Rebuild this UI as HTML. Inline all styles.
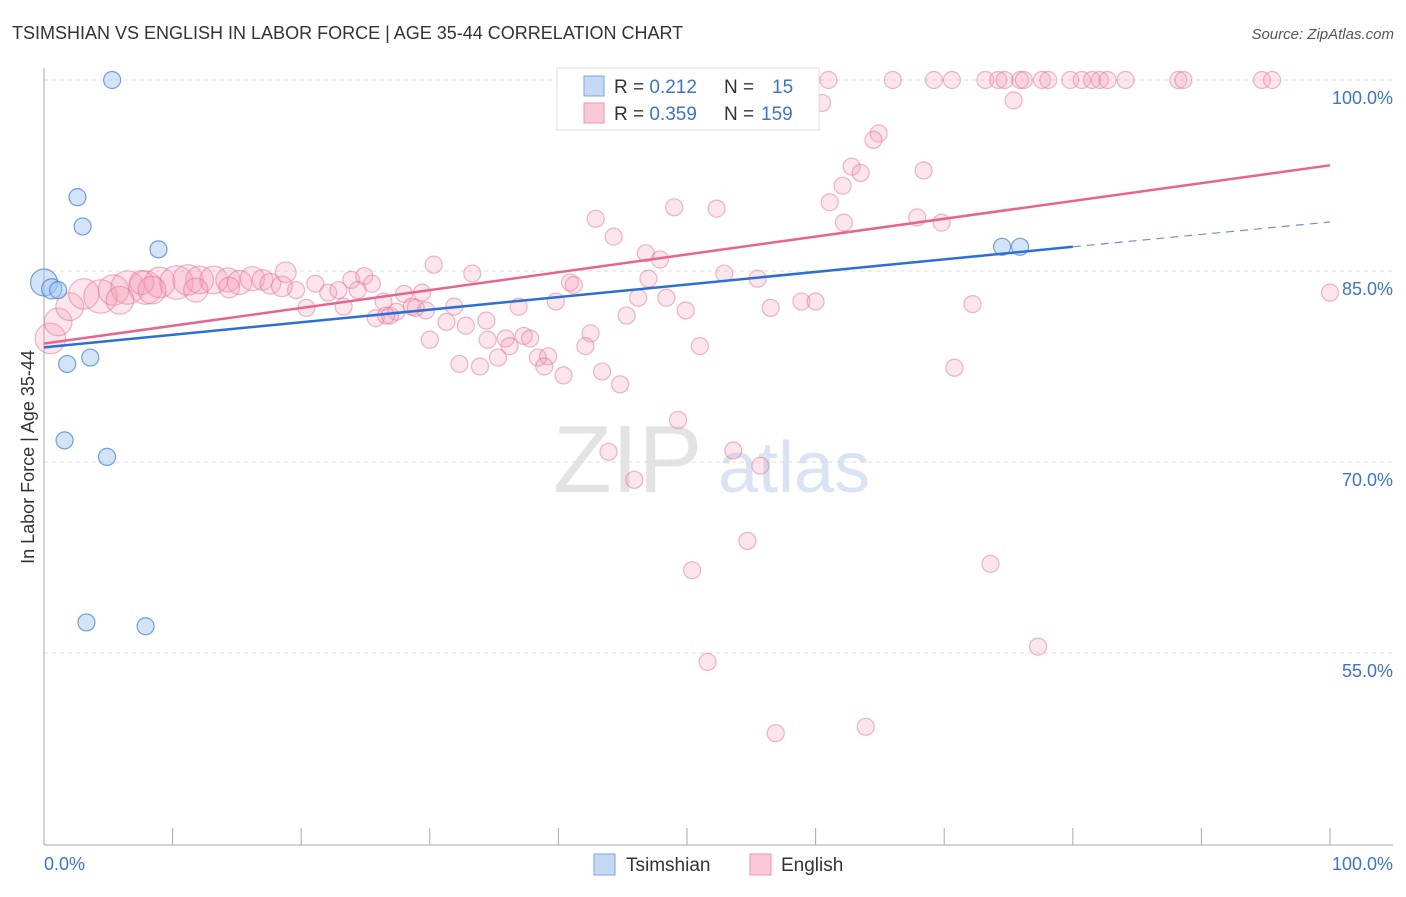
<!DOCTYPE html>
<html><head><meta charset="utf-8"><style>
body{margin:0;background:#fff;font-family:"Liberation Sans",sans-serif;}
svg text{font-family:"Liberation Sans",sans-serif;}
</style></head><body>
<svg id="c" width="1406" height="892" xmlns="http://www.w3.org/2000/svg">
<text x="12" y="39" font-size="18" fill="#333">TSIMSHIAN VS ENGLISH IN LABOR FORCE | AGE 35-44 CORRELATION CHART</text>
<text x="1394" y="39" font-size="15" fill="#555" text-anchor="end" font-style="italic">Source: ZipAtlas.com</text>
<text x="0" y="0" transform="translate(34,457) rotate(-90)" font-size="18" fill="#333" text-anchor="middle">In Labor Force | Age 35-44</text>
<g><text x="553" y="492" font-size="96" fill="#ddd" font-family="Liberation Serif" opacity="0.8">ZIP</text><text x="718" y="492" font-size="72" fill="#c8daf0" opacity="0.7">atlas</text></g>
<g id="grid"></g>
<g id="ticks"></g>
<line x1="44" y1="68" x2="44" y2="845" stroke="#aaa"/>
<line x1="44" y1="845" x2="1393" y2="845" stroke="#aaa"/>
<g id="pink"></g>
<g id="blue"></g>
<g id="trend"></g>
<text x="44" y="870" font-size="18" fill="#3b73d1">0.0%</text>
<text x="1393" y="870" font-size="18" fill="#3b73d1" text-anchor="end">100.0%</text>
<g>
<rect x="557" y="68" width="262" height="62" fill="#fff" stroke="#ddd"/>
<rect x="584" y="76" width="20" height="20" fill="#c5d9f5" stroke="#7aa6e0"/>
<rect x="584" y="103" width="20" height="20" fill="#fbc8d6" stroke="#ef93ae"/>
<text x="614" y="93" font-size="19" fill="#333">R = <tspan fill="#3b73d1">0.212</tspan><tspan x="724">N = </tspan><tspan x="772" fill="#3b73d1">15</tspan></text>
<text x="614" y="120" font-size="19" fill="#333">R = <tspan fill="#3b73d1">0.359</tspan><tspan x="724">N = </tspan><tspan x="761" fill="#3b73d1">159</tspan></text>
</g>
<g>
<rect x="594" y="854" width="21" height="21" fill="#c5d9f5" stroke="#7aa6e0"/>
<text x="626" y="871" font-size="19" fill="#333">Tsimshian</text>
<rect x="750" y="854" width="21" height="21" fill="#fbc8d6" stroke="#ef93ae"/>
<text x="781" y="871" font-size="19" fill="#333">English</text>
</g>
</svg>
<script>
const yTicks=[100,85,70,55];
const yTickLabels=["100.0%","85.0%","70.0%","55.0%"];
const blueX=[5.3,2.6,3.0,8.9,0,0.6,1.1,1.8,3.6,1.6,4.9,3.3,7.9,74.5,75.9];
const blueY=[100,90.8,88.5,86.7,84.1,83.6,83.5,77.7,78.2,71.7,70.4,57.4,57.1,86.9,86.9];
const blueW=[1,1,1,1,3,1.5,1,1,1,1,1,1,1,1,1];
const pinkX=[57.7,58,61,66,69.2,70.6,73.2,74.2,74.7,75.9,76.2,77.6,78.1,79.8,80.7,81.5,82.1,82.7,84.1,88.2,88.6,94.7,95.5,54.1,
60.5,75.4,59.3,64.9,64.5,62.8,63.5,62.1,68.4,61.1,62.2,49,52.3,42.9,44.3,67.9,69.8,46.8,47.9,30.3,33.3,47,52.9,55.5,40.9,41.2,46.2,48.4,39.8,36.9,31.9,29.7,49.9,45.3,56.5,58.9,60,72.2,100,42.5,42.1,51,34.4,32.8,31.3,34.5,35.9,36.2,37.3,37.8,35.3,38.4,39.2,38.9,32.3,33.9,40.4,43.4,44.8,70.8,30,49.3,43.9,53.6,55.7,45.9,54.7,50.4,73.6,77.3,51.6,56.9,63.9,
20.4,19.6,21.1,22.1,22.9,23.3,23.9,24.4,24.9,25.5,26.4,25.8,26.9,27.4,28,28.6,28.9,29.4,26.6,
0.5,1.1,2,3.1,4.4,5.4,6.5,7.9,9,10.3,11.2,12.1,13.2,14.3,15.2,16.2,17,17.6,18.8,7.6,5.9,8.4,11.8,14.4,18.5];
const pinkY=[100,100,100,100,100,100,100,100,100,100,100,100,100,100,100,100,100,100,100,100,100,100,100,100,
98.2,98.4,97.4,95.8,95.3,93.2,92.7,91.7,92.9,90.4,88.8,90,89.9,89.1,87.7,89.2,88.8,86.4,85.9,85.5,84.8,84.4,84.8,84.4,84.1,83.9,82.9,82.9,82.6,82.2,82.2,81.9,81.9,81.5,82.1,82.6,82.6,82.4,83.3,80.1,79.1,79.1,81.1,80.7,81,79.6,79.7,79.1,79.9,79.7,78.2,78.2,78.3,77.5,77.7,77.5,76.8,77.1,76.1,77.4,79.6,73.3,70.8,70.9,69.7,68.6,63.8,61.5,62,55.5,54.3,48.7,49.2,
82.1,83.5,84,83.3,83.5,82.2,84.3,83.5,84.6,84,82.6,81.3,81.5,81.8,83.2,82.2,82.1,83.3,81.5,
79.7,81,82.2,83.2,83,83.5,83.7,83.7,84.1,84.1,84.3,84.3,84.3,84.3,84.1,84.4,84.3,84,84.9,84.1,82.7,83.5,83.5,83.7,83.8];
const clusterW=[4,3.2,3.2,4,5,4,5,5,4,5,4,3.2,3.2,2.3,2.3,2.3,1.6,1.6,1.6,2.3,3.2,3.2,2.3,1.6,1.6];
const pinkW=pinkX.map((v,i)=>i>=pinkX.length-25?clusterW[i-(pinkX.length-25)]:1);
const blueTrend=[79.0,86.9,88.85], blueTrendX=[0,80,100];
const pinkTrend=[79.3,93.3];
const NS="http://www.w3.org/2000/svg";
const sx=v=>44+v*12.86, sy=v=>80+(100-v)*12.733;
const rad=w=>8.5*Math.pow(w,0.42);
function mk(t,a,p){const e=document.createElementNS(NS,t);for(const k in a)e.setAttribute(k,a[k]);p.appendChild(e);return e;}
const g=document.getElementById('grid');
yTicks.forEach((t,i)=>{
 const l=mk('line',{x1:44,x2:1393,y1:sy(t),y2:sy(t),stroke:'#ddd','stroke-dasharray':'4,4'},g);
 
 
 const tx=mk('text',{x:1393,y:sy(t)+24,'font-size':18,fill:'#3b73d1','text-anchor':'end'},g);
 tx.textContent=yTickLabels[i];
 
 
});
const tk=document.getElementById('ticks');
for(let i=0;i<=10;i++){const l=mk('line',{x1:sx(i*10),x2:sx(i*10),y1:828,y2:845,stroke:'#aaa'},tk);
 
 }
const pg=document.getElementById('pink');
pinkX.forEach((x,i)=>{const c=mk('circle',{cx:sx(x),cy:sy(pinkY[i]),r:rad(pinkW[i]),fill:'rgba(245,150,178,0.25)',stroke:'rgba(232,110,148,0.5)','stroke-width':1.2},pg);
 
 });
const bg=document.getElementById('blue');
blueX.forEach((x,i)=>{const c=mk('circle',{cx:sx(x),cy:sy(blueY[i]),r:rad(blueW[i]),fill:'rgba(160,195,240,0.45)',stroke:'rgba(70,130,215,0.75)','stroke-width':1.2},bg);
 
 });
const tg=document.getElementById('trend');
const pl=mk('line',{x1:sx(0),y1:sy(pinkTrend[0]),x2:sx(100),y2:sy(pinkTrend[1]),stroke:'#e8648f','stroke-width':2.5},tg);


const bl=mk('line',{x1:sx(blueTrendX[0]),y1:sy(blueTrend[0]),x2:sx(blueTrendX[1]),y2:sy(blueTrend[1]),stroke:'#2a6fd6','stroke-width':2.5},tg);


const bd=mk('line',{x1:sx(blueTrendX[1]),y1:sy(blueTrend[1]),x2:sx(blueTrendX[2]),y2:sy(blueTrend[2]),stroke:'#6b95d6','stroke-width':1.2,'stroke-dasharray':'8,6'},tg);


</script>
</body></html>
